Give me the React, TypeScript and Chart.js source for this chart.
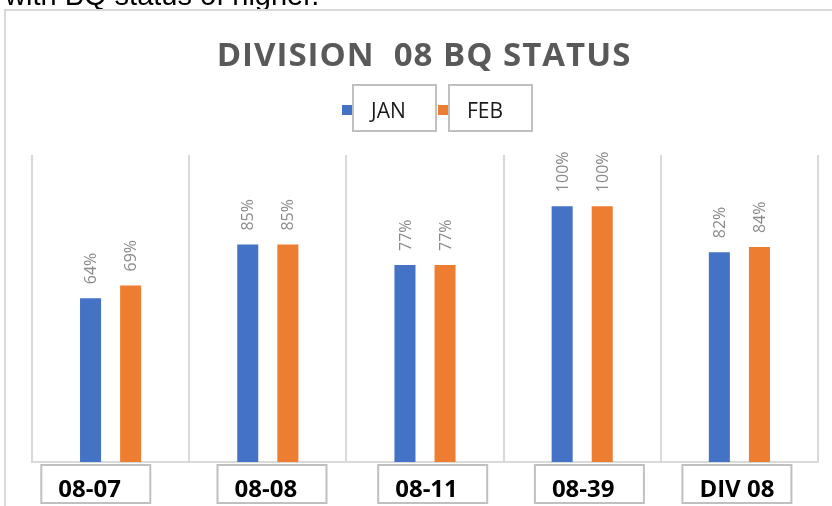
import React, { useEffect, useRef } from "react";
import { Chart, registerables } from "chart.js";

Chart.register(...registerables);

const categories = ["08-07", "08-08", "08-11", "08-39", "DIV 08"];
const janValues = [64, 85, 77, 100, 82];
const febValues = [69, 85, 77, 100, 84];
const seriesNames = ["JAN", "FEB"];
const titleText = "DIVISION  08 BQ STATUS";
const captionText = "with BQ status of higher.";

// layout-only constants (not data)
const labelShift = [-21, -2, 1.5, 1, -2.5];
const COLORS = ["#4472C4", "#ED7D31"];
const GRID = "#d9d9d9";

const customPlugin = {
  id: "custom",
  beforeDraw(chart: any) {
    const ctx = chart.ctx;
    ctx.save();
    ctx.fillStyle = "#ffffff";
    ctx.fillRect(0, 0, chart.width, chart.height);
    // caption (cut off at top)
    ctx.fillStyle = "#000000";
    ctx.font = "29px 'Liberation Sans', Arial, sans-serif";
    ctx.textAlign = "left";
    ctx.textBaseline = "alphabetic";
    ctx.fillText(captionText, 5, 5);
    // chart frame
    ctx.strokeStyle = GRID;
    ctx.lineWidth = 2;
    ctx.beginPath();
    ctx.moveTo(5, chart.height + 2);
    ctx.lineTo(5, 10);
    ctx.lineTo(chart.width + 2, 10);
    ctx.stroke();
    ctx.restore();
  },
  afterDatasetsDraw(chart: any) {
    const ctx = chart.ctx;
    ctx.save();
    ctx.fillStyle = "#8a8a8a";
    ctx.font = "16px 'Open Sans', sans-serif";
    ctx.textAlign = "left";
    ctx.textBaseline = "middle";
    chart.data.datasets.forEach((ds: any, di: number) => {
      const meta = chart.getDatasetMeta(di);
      meta.data.forEach((el: any, i: number) => {
        ctx.save();
        ctx.translate(el.x + 1, el.y - 14);
        ctx.rotate(-Math.PI / 2);
        ctx.fillText(ds.data[i] + "%", 0, 0);
        ctx.restore();
      });
    });
    ctx.restore();
  },
  afterDraw(chart: any) {
    const ctx = chart.ctx;
    const area = chart.chartArea;
    ctx.save();
    // title
    ctx.fillStyle = "#595959";
    ctx.font = "bold 33px 'Open Sans', sans-serif";
    (ctx as any).letterSpacing = "1px";
    ctx.textAlign = "left";
    ctx.textBaseline = "alphabetic";
    const tw = ctx.measureText(titleText).width;
    const cx = (area.left + area.right) / 2 - 1;
    ctx.fillText(titleText, cx - tw / 2, 66);
    (ctx as any).letterSpacing = "0px";

    // legend
    ctx.font = "21px 'Open Sans', sans-serif";
    let x = 342;
    chart.data.datasets.forEach((ds: any) => {
      ctx.fillStyle = ds.backgroundColor;
      ctx.fillRect(x, 105, 10, 10);
      const bx = x + 11;
      ctx.strokeStyle = "#c0c0c0";
      ctx.lineWidth = 2;
      ctx.strokeRect(bx, 85, 83, 46);
      ctx.fillStyle = "#1a1a1a";
      ctx.fillText(ds.label, bx + 18, 118);
      x = bx + 85;
    });

    // x labels in boxes
    const xs = chart.scales.x;
    ctx.font = "bold 24px 'Open Sans', sans-serif";
    chart.data.labels.forEach((lab: string, i: number) => {
      const c = xs.getPixelForValue(i) + labelShift[i];
      const w = ctx.measureText(lab).width;
      const tl = c - w / 2;
      const bl = tl - 17;
      ctx.strokeStyle = "#c0c0c0";
      ctx.lineWidth = 2;
      ctx.fillStyle = "#ffffff";
      ctx.fillRect(bl, area.bottom + 3, 109, 38);
      ctx.strokeRect(bl, area.bottom + 3, 109, 38);
      ctx.fillStyle = "#000000";
      ctx.fillText(lab, tl, area.bottom + 35);
    });
    ctx.restore();
  },
};

export default function App() {
  const ref = useRef<HTMLCanvasElement | null>(null);
  useEffect(() => {
    if (!ref.current) return;
    const chart = new Chart(ref.current, {
      type: "bar",
      data: {
        labels: categories,
        datasets: [
          { label: seriesNames[0], data: janValues, backgroundColor: COLORS[0] },
          { label: seriesNames[1], data: febValues, backgroundColor: COLORS[1] },
        ],
      },
      options: {
        responsive: false,
        animation: false,
        devicePixelRatio: 1,
        layout: { padding: { left: 32, right: 14, top: 155, bottom: 44 } },
        plugins: {
          legend: { display: false },
          title: { display: false },
          tooltip: { enabled: false },
        },
        datasets: {
          bar: { categoryPercentage: 0.51, barPercentage: 0.525 },
        },
        scales: {
          x: {
            grid: { color: GRID, lineWidth: 2, drawTicks: false, offset: true },
            border: { display: true, color: GRID, width: 2 },
            ticks: { display: false },
          },
          y: {
            display: false,
            min: 0,
            max: 120,
          },
        },
      },
      plugins: [customPlugin],
    } as any);
    return () => chart.destroy();
  }, []);
  return (
    <div style={{ position: "absolute", left: 0, top: 0, width: 832, height: 506 }}>
      <canvas ref={ref} width={832} height={506} style={{ display: "block" }} />
    </div>
  );
}
